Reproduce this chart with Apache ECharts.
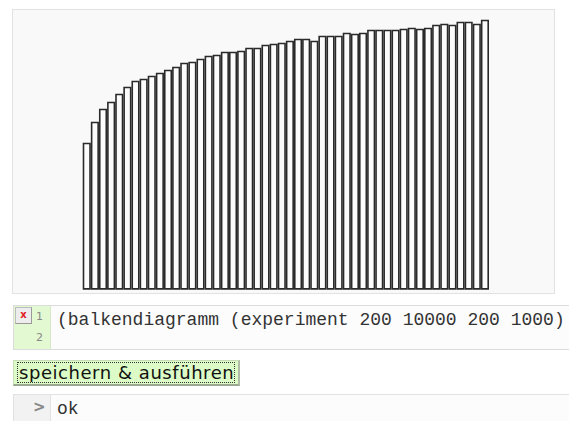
<!DOCTYPE html>
<html>
<head>
<meta charset="utf-8">
<script src="https://cdn.jsdelivr.net/npm/echarts@6/dist/echarts.min.js"></script>
<style>
  html, body { margin: 0; padding: 0; background: #ffffff; width: 569px; height: 421px; overflow: hidden; }
  #panel { position: absolute; left: 12px; top: 9px; width: 543px; height: 285px; background: #f9f9f9; border: 1px solid #e2e2e2; box-sizing: border-box; }
  #chart { position: absolute; left: 0; top: 0; width: 569px; height: 300px; }
  #editor { position: absolute; left: 13px; top: 305px; width: 600px; height: 45px; border: 1px solid #dcdcdc; box-sizing: border-box; background: #fcfcfc; }
  #gutter { position: absolute; left: 0; top: 0; width: 36px; height: 43px; background: #e3f9d2; border-right: 1px solid #d6e8c8; }
  .ln { position: absolute; left: 22px; font-family: "DejaVu Sans", sans-serif; font-size: 11px; color: #888; }
  #xbtn { position: absolute; left: 1px; top: 1px; width: 17px; height: 17px; background: #ededed; border: 1px solid #bdbdbd; border-right-color: #9a9a9a; border-bottom-color: #9a9a9a; box-sizing: border-box; color: #e02020; font-family: "DejaVu Sans", sans-serif; font-weight: bold; font-size: 10px; line-height: 14px; text-align: center; }
  #code { position: absolute; left: 43px; top: 4px; font-family: "Liberation Mono", monospace; font-size: 18px; color: #333; white-space: pre; }
  #btn { position: absolute; left: 13px; top: 360px; width: 227px; height: 26px; background: #dcfbc6; border: 1px solid #c8dcb8; border-bottom: 2px solid #9aa890; border-right: 2px solid #b0bca8; box-sizing: border-box; }
  #btn span { position: absolute; left: 3px; top: 1px; right: 3px; bottom: 1px; border: 1px dotted #333; font-family: "DejaVu Sans", sans-serif; font-size: 18px; letter-spacing: 0.55px; line-height: 20px; color: #111; padding-left: 1px; white-space: nowrap; overflow: hidden; }
  #out { position: absolute; left: 13px; top: 394px; width: 600px; height: 40px; border: 1px solid #e2e2e2; box-sizing: border-box; background: #fcfcfc; }
  #outg { position: absolute; left: 0; top: 0; width: 36px; height: 40px; background: #f2f2f2; border-right: 1px solid #e2e2e2; }
  #gt { position: absolute; left: 19px; top: 3px; font-family: "DejaVu Sans", sans-serif; font-weight: bold; font-size: 15px; color: #888; }
  #ok { position: absolute; left: 43px; top: 4px; font-family: "Liberation Mono", monospace; font-size: 18px; color: #333; }
</style>
</head>
<body>
<div id="panel"></div>
<div id="chart"></div>
<div id="editor">
  <div id="gutter">
    <div id="xbtn">x</div>
    <div class="ln" style="top:4px">1</div>
    <div class="ln" style="top:25px">2</div>
  </div>
  <div id="code">(balkendiagramm (experiment 200 10000 200 1000)</div>
</div>
<div id="btn"><span>speichern &amp; ausführen</span></div>
<div id="out">
  <div id="outg"><div id="gt">&gt;</div></div>
  <div id="ok">ok</div>
</div>
<script>
// 50 Balken (experiment 200 10000 200 1000): Schritte 200..10000
const categories = [];
for (let i = 1; i <= 50; i++) categories.push(String(i * 200));
const values = [
  147, 168, 181, 188, 196, 203, 209, 211, 214, 217,
  220, 223, 227, 228, 231, 234, 235, 238, 238, 239,
  242, 242, 245, 246, 247, 249, 251, 251, 249, 254,
  254, 254, 257, 256, 257, 260, 260, 260, 260, 261,
  262, 261, 262, 265, 266, 265, 268, 268, 266, 270
];

const chart = echarts.init(document.getElementById('chart'), null, { renderer: 'canvas' });
chart.setOption({
  animation: false,
  grid: { left: 82.7, right: 80, top: 9.7, height: 280 },
  xAxis: {
    type: 'category',
    data: categories,
    show: false
  },
  yAxis: {
    type: 'value',
    min: 0,
    max: 280,
    show: false
  },
  series: [{
    type: 'bar',
    data: values,
    barCategoryGap: 0,
    itemStyle: { color: '#fcfcfc', borderColor: '#2a2a2a', borderWidth: 1.6 }
  }]
});
</script>
</body>
</html>
